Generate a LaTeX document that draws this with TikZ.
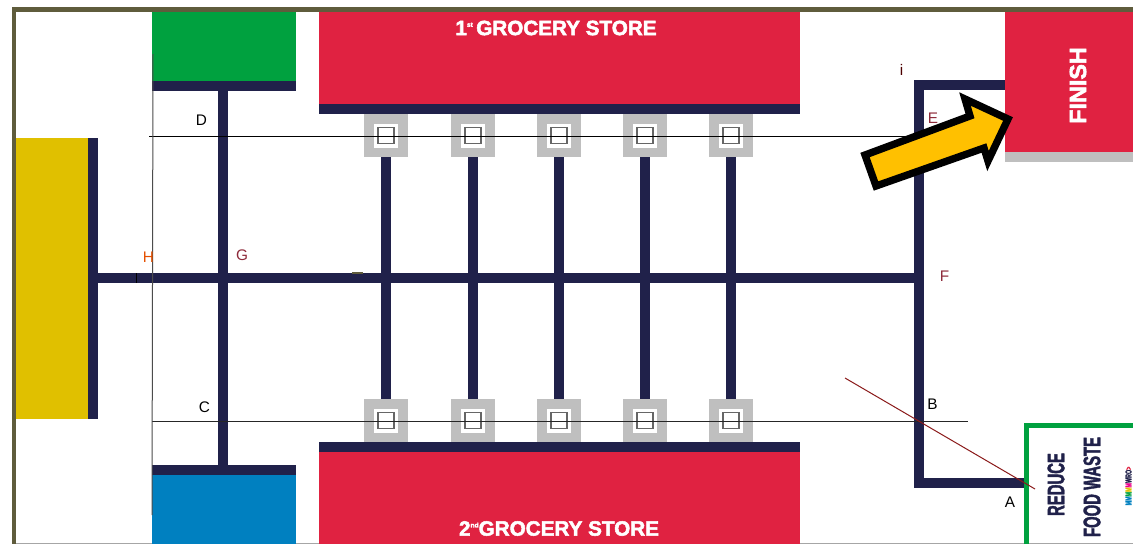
\documentclass[tikz,border=0pt]{standalone}
\usepackage{fontspec}
\setmainfont{Liberation Sans}
\newfontfamily\heavy[FakeStretch=1.0,FakeBold=2.5]{Liberation Sans Bold}
\newfontfamily\narrow[FakeStretch=0.62,FakeBold=1.6]{Liberation Sans Bold}
\definecolor{navy}{HTML}{20214A}
\definecolor{storered}{HTML}{E02241}
\definecolor{frameolive}{HTML}{5F5C3C}
\definecolor{greenbox}{HTML}{00A13F}
\definecolor{bluebox}{HTML}{0080C0}
\definecolor{yellowbox}{HTML}{E0C000}
\definecolor{padgray}{HTML}{BFBFBF}
\definecolor{arrowyellow}{HTML}{FFC000}
\definecolor{labred}{HTML}{8E2A3A}
\definecolor{diag}{HTML}{8B1A1A}
\tikzset{
  bar/.style={fill=navy,draw=none},
  thin line/.style={draw=black,line width=0.75pt},
  lab/.style={font=\fontsize{11.5}{13}\selectfont,inner sep=0pt,text=#1},
  lab/.default=black,
  storetext/.style={text=white,font=\heavy\fontsize{15.5}{18}\selectfont,inner sep=0pt},
  wastetext/.style={text=navy,font=\narrow\fontsize{18}{20}\selectfont,inner sep=0pt,rotate=90}
}
\newcommand{\padat}[2]{%
  \fill[padgray] (#1-22,#2-21.5) rectangle (#1+22,#2+21.5);
  \fill[white] (#1-12,#2-12) rectangle (#1+12,#2+12);
  \draw[black!60,line width=0.9pt] (#1-8,#2-8) rectangle (#1+8,#2+8);
}
\begin{document}
\begin{tikzpicture}[x=0.75pt,y=-0.75pt]
\useasboundingbox (0,0) rectangle (1133,544);
\fill[white] (0,0) rectangle (1133,544);
% frame
\fill[frameolive] (12,7) rectangle (1133,12);
\fill[frameolive] (12,7) rectangle (16,544);
\fill[black!35] (16,543) rectangle (1133,544);
% coloured zones
\fill[greenbox] (152,12) rectangle (295.5,81);
\fill[bluebox] (152,475) rectangle (295.5,543.5);
\fill[yellowbox] (16,138) rectangle (87.5,419);
\fill[storered] (319,12) rectangle (800,104);
\fill[storered] (319,452) rectangle (800,543.5);
\fill[storered] (1005,12) rectangle (1133,152);
\fill[padgray] (1005,152) rectangle (1133,162);
% dark tracks
\fill[bar] (152,81) rectangle (295.5,91);
\fill[bar] (152,465) rectangle (295.5,475);
\fill[bar] (87.5,138) rectangle (97.5,419);
\fill[bar] (97,273) rectangle (923,283);
\fill[bar] (218,91) rectangle (228,465);
\fill[bar] (319,104) rectangle (800,114);
\fill[bar] (319,442) rectangle (800,452);
\foreach \x in {386,473,559,645,731}{
  \fill[bar] (\x-5,157) rectangle (\x+5,399);
}
\fill[bar] (913.5,80) rectangle (923.5,488);
\fill[bar] (913.5,80) rectangle (1005,90);
\fill[bar] (913.5,478) rectangle (1025,488);
% pads
\foreach \x in {386,473,559,645,731}{
  \padat{\x}{135.5}
  \padat{\x}{420.5}
}
% reduce food waste sign
\draw[greenbox,line width=3.6pt] (1026.5,544) -- (1026.5,425.5) -- (1133,425.5);
\node[wastetext] (reduce) at (1056,484.5) {REDUCE};
\node[wastetext] (waste) at (1092,487) {FOOD WASTE};
\node[rotate=90,inner sep=0pt,font=\narrow\fontsize{6.5}{7}\selectfont] (wro) at (1128.5,486)
  {\textcolor{bluebox}{\rule{0pt}{1ex}MM}\textcolor{greenbox}{M}\textcolor{yellowbox}{M}\textcolor{magenta}{M}\textcolor{navy}{WRO}\textcolor{storered}{>}};
% thin construction lines
\draw[thin line] (149,136) -- (918,136);
\draw[thin line,draw=black!85] (152,421.5) -- (968,421.5);
\draw[draw=black!70,line width=0.75pt] (153,54) -- (152,515);
\draw[draw=black,line width=0.6pt] (136,273) -- (136,283);
\fill[frameolive] (352,272) rectangle (363,273.5);
\draw[diag,line width=0.75pt] (845,378) -- (1035,489);
% arrow
\draw[black,fill=arrowyellow,line width=5.5pt,miter limit=10]
  (865,155) -- (876,186) -- (984,148) -- (988,161) -- (1008,119) -- (965,99) -- (970,116) -- cycle;
% texts
\node[storetext] (store1) at (556,28) {1\raisebox{0.75ex}{\fontsize{5}{5}\selectfont st}\,GROCERY STORE};
\node[storetext] (store2) at (559,528.5) {2\raisebox{0.75ex}{\fontsize{5}{5}\selectfont nd}GROCERY STORE};
\node[storetext,rotate=90,font=\heavy\fontsize{17.5}{20}\selectfont] (finish) at (1078,85.5) {FINISH};
\node[lab] (labA) at (1010,502) {A};
\node[lab] (labB) at (932.5,404) {B};
\node[lab] (labC) at (204.5,407) {C};
\node[lab] (labD) at (201.5,120.5) {D};
\node[lab=labred] (labE) at (933,118) {E};
\node[lab=labred] (labF) at (944.5,276) {F};
\node[lab=labred] (labG) at (242,255) {G};
\node[lab=orange!70!red!90!black] (labH) at (148.5,257) {H};
\node[lab=black!70!red] (labi) at (901.5,70) {i};
\end{tikzpicture}
\end{document}
